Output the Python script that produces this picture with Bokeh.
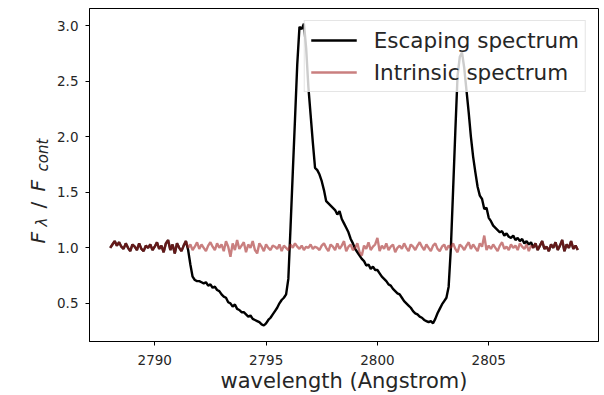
import numpy as np
from bokeh.plotting import figure
from bokeh.layouts import row
from bokeh.core.properties import value
from bokeh.models import Range1d, FixedTicker, Legend, LegendItem, NumeralTickFormatter
from bokeh.embed import file_html
from bokeh.resources import INLINE

# ---------------- data ----------------
wave_start = 2788.0
wave_end = 2809.0
n_points = 211
wavelength = np.linspace(wave_start, wave_end, n_points)

# Intrinsic (continuum-normalised) spectrum, 0.1 A steps
intrinsic = [
    1.00, 1.03, 1.06, 1.02, 1.05, 1.01, 0.99, 1.04, 1.00, 0.97,   # 2788.0
    1.03, 1.01, 0.98, 1.04, 0.99, 0.97, 1.02, 1.00, 1.03, 0.98,   # 2789.0
    1.01, 1.05, 0.99, 1.02, 0.96, 1.04, 1.07, 0.98, 1.03, 0.95,   # 2790.0
    1.04, 1.00, 0.97, 1.02, 1.06, 1.00, 1.03, 0.98, 1.01, 1.05,   # 2791.0
    0.99, 1.03, 1.00, 0.97, 1.02, 1.05, 1.01, 0.98, 1.04, 1.00,   # 2792.0
    1.03, 0.97, 1.06, 1.01, 0.92, 1.04, 0.98, 1.07, 0.99, 1.02,   # 2793.0
    1.05, 0.96, 1.03, 1.00, 1.06, 0.98, 0.95, 1.04, 1.01, 0.97,   # 2794.0
    1.03, 1.00, 0.98, 1.02, 1.01, 0.99, 1.03, 0.97, 1.02, 1.00,   # 2795.0
    0.98, 1.03, 1.00, 1.04, 1.01, 0.99, 1.02, 0.98, 1.01, 1.00,   # 2796.0
    1.03, 0.99, 1.01, 1.00, 0.98, 1.02, 1.04, 1.00, 0.97, 1.03,   # 2797.0
    1.01, 0.98, 1.04, 0.99, 1.02, 1.06, 0.97, 1.01, 1.03, 0.98,   # 2798.0
    1.00, 1.04, 0.96, 0.93, 1.02, 0.99, 1.05, 0.98, 1.01, 1.03,   # 2799.0
    1.09, 0.97, 1.02, 0.99, 1.04, 0.98, 1.01, 1.03, 0.96, 1.00,   # 2800.0
    1.02, 0.99, 1.04, 1.00, 0.97, 1.03, 1.01, 0.98, 1.02, 1.05,   # 2801.0
    1.01, 0.98, 1.03, 1.00, 0.97, 1.02, 1.04, 0.99, 0.97, 1.01,   # 2802.0
    1.03, 0.98, 1.02, 1.00, 1.04, 0.99, 0.96, 1.03, 1.01, 0.98,   # 2803.0
    1.02, 1.05, 0.99, 1.03, 1.00, 0.97, 1.04, 1.01, 1.11, 0.98,   # 2804.0
    1.02, 0.99, 1.03, 1.00, 0.97, 1.02, 1.05, 0.99, 1.01, 0.98,   # 2805.0
    1.03, 1.00, 1.02, 0.98, 1.04, 1.01, 0.99, 1.03, 0.97, 1.02,   # 2806.0
    1.00, 1.04, 0.98, 1.02, 1.06, 0.99, 1.01, 0.97, 1.03, 1.00,   # 2807.0
    1.05, 0.98, 1.02, 1.07, 0.97, 1.03, 1.00, 1.06, 0.99, 1.02,   # 2808.0
    0.98,                                                         # 2809.0
]

# Escaping spectrum between 2791.5 and 2806.9 A (outside it equals the intrinsic one)
escaping_absorption = [
    0.98, 0.85, 0.74, 0.71, 0.70,                                 # 2791.5
    0.70, 0.69, 0.68, 0.69, 0.66, 0.67, 0.64, 0.65, 0.62, 0.61,   # 2792.0
    0.58, 0.56, 0.55, 0.51, 0.50, 0.47, 0.49, 0.45, 0.44, 0.42,   # 2793.0
    0.42, 0.40, 0.38, 0.39, 0.36, 0.35, 0.34, 0.33, 0.31, 0.30,   # 2794.0
    0.32, 0.35, 0.37, 0.40, 0.43, 0.46, 0.50, 0.53, 0.55, 0.58,   # 2795.0
    0.72, 1.19, 1.68, 2.16, 2.65, 2.99, 2.97, 3.02, 2.80, 2.45,   # 2796.0
    2.20, 1.95, 1.72, 1.70, 1.66, 1.60, 1.52, 1.42, 1.40, 1.38,   # 2797.0
    1.36, 1.34, 1.30, 1.33, 1.26, 1.22, 1.18, 1.14, 1.08, 1.04,   # 2798.0
    0.99, 0.96, 0.93, 0.90, 0.88, 0.84, 0.85, 0.81, 0.83, 0.80,   # 2799.0
    0.80, 0.77, 0.74, 0.72, 0.70, 0.67, 0.66, 0.63, 0.61, 0.59,   # 2800.0
    0.58, 0.55, 0.52, 0.50, 0.48, 0.46, 0.43, 0.41, 0.40, 0.38,   # 2801.0
    0.37, 0.35, 0.34, 0.33, 0.34, 0.32, 0.36, 0.41, 0.45, 0.49,   # 2802.0
    0.52, 0.55, 0.65, 1.00, 1.52, 2.05, 2.55, 2.72, 2.76, 2.62,   # 2803.0
    2.42, 2.22, 2.00, 1.82, 1.68, 1.55, 1.47, 1.44, 1.35, 1.36,   # 2804.0
    1.27, 1.24, 1.20, 1.18, 1.16, 1.14, 1.15, 1.11, 1.13, 1.10,   # 2805.0
    1.09, 1.11, 1.07, 1.09, 1.06, 1.08, 1.04, 1.06, 1.03, 1.05,   # 2806.0
]
escaping = intrinsic[:35] + escaping_absorption + intrinsic[190:]

x_ticks = [2790, 2795, 2800, 2805]
y_ticks = [0.5, 1.0, 1.5, 2.0, 2.5, 3.0]
series_labels = ["Escaping spectrum", "Intrinsic spectrum"]
x_label = "wavelength (Angstrom)"
y_label_parts = ["F", "\u03bb", "/", "F", "cont"]

# ---------------- main figure ----------------
TXT = "#262626"
FONT = "DejaVu Sans"
W, H = 604, 395
LEFT_W = 50
TOP, BOTTOM = 8, 54

p = figure(width=W - LEFT_W, height=H, output_backend="svg", toolbar_location=None,
           x_range=Range1d(2787.07, 2809.93), y_range=Range1d(0.156, 3.156),
           min_border_left=89 - LEFT_W, min_border_right=6, min_border_top=TOP,
           min_border_bottom=BOTTOM)
p.background_fill_color = "white"
p.border_fill_color = "white"
p.grid.visible = False
p.outline_line_color = "black"
p.outline_line_width = 1

for ax in (p.xaxis[0], p.yaxis[0]):
    ax.minor_tick_line_color = None
    ax.major_tick_in = 0
    ax.major_tick_out = 4
    ax.major_tick_line_color = "black"
    ax.axis_line_color = "black"
    ax.major_label_text_font = FONT
    ax.major_label_text_font_size = "13.5px"
    ax.major_label_text_color = TXT

p.xaxis.ticker = FixedTicker(ticks=x_ticks)
p.yaxis.ticker = FixedTicker(ticks=y_ticks)
p.yaxis.formatter = NumeralTickFormatter(format="0.0")
p.xaxis.major_label_standoff = 9
p.yaxis.major_label_standoff = 7
p.xaxis.axis_label = x_label
p.xaxis.axis_label_text_font = FONT
p.xaxis.axis_label_text_font_size = "21px"
p.xaxis.axis_label_text_font_style = "normal"
p.xaxis.axis_label_text_color = TXT
p.xaxis.axis_label_standoff = 1

r_esc = p.line(wavelength, escaping, line_color="black", line_width=2.4)
r_int = p.line(wavelength, intrinsic, line_color="brown", line_alpha=0.6, line_width=2.4)

legend = Legend(items=[LegendItem(label=series_labels[0], renderers=[r_esc]),
                       LegendItem(label=series_labels[1], renderers=[r_int])],
                location="top_right", margin=12, padding=6,
                glyph_width=46, glyph_height=26, label_height=26,
                label_standoff=17, spacing=6,
                label_text_font=FONT, label_text_font_size="21.5px",
                label_text_color=TXT,
                border_line_color="#cccccc", border_line_width=1,
                background_fill_color="white", background_fill_alpha=0.8)
p.add_layout(legend)

# ---------------- y-axis label strip (F_lambda / F_cont) ----------------
# strip frame is aligned with the main frame (canvas rows TOP .. H-BOTTOM);
# its y range is set so that y = H - canvas_row
lab = figure(width=LEFT_W, height=H, output_backend="svg", toolbar_location=None,
             x_range=Range1d(0, LEFT_W), y_range=Range1d(BOTTOM, H - TOP),
             min_border_left=0, min_border_right=0,
             min_border_top=TOP, min_border_bottom=BOTTOM,
             x_axis_location=None, y_axis_location=None)
lab.grid.visible = False
lab.outline_line_color = None
lab.background_fill_color = "white"
lab.border_fill_color = "white"

part_x = [37, 41.5, 37, 37, 42]
part_y = [H - 243, H - 226, H - 208, H - 191, H - 171]
part_size = ["20px", "15px", "20px", "20px", "15px"]
part_style = ["italic", "italic", "normal", "italic", "italic"]
for t, x, y, fs, st in zip(y_label_parts, part_x, part_y, part_size, part_style):
    lab.text(x=[x], y=[y], text=[t], angle=np.pi / 2,
             text_font=value(FONT), text_font_size=value(fs),
             text_font_style=st, text_color=TXT,
             text_align="left", text_baseline="alphabetic")

layout = row(lab, p)
open("out.html", "w").write(file_html(layout, INLINE))
